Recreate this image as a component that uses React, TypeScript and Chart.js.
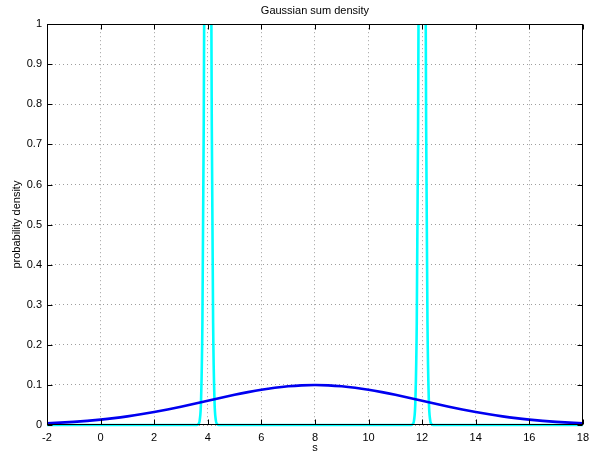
import React, { useEffect, useRef } from "react";
import { Chart, registerables } from "chart.js";

Chart.register(...registerables);

const titleText = "Gaussian sum density";
const xTitle = "s";
const yTitle = "probability density";

const xTickValues = [-2, 0, 2, 4, 6, 8, 10, 12, 14, 16, 18];
const xTickLabels = ["-2", "0", "2", "4", "6", "8", "10", "12", "14", "16", "18"];
const yTickValues = [0, 0.1, 0.2, 0.3, 0.4, 0.5, 0.6, 0.7, 0.8, 0.9, 1];
const yTickLabels = ["0", "0.1", "0.2", "0.3", "0.4", "0.5", "0.6", "0.7", "0.8", "0.9", "1"];

// Blue: wide density (sampled every 0.5 from -2 to 18)
const blueX = [
  -2, -1.5, -1, -0.5, 0, 0.5, 1, 1.5, 2, 2.5, 3, 3.5, 4, 4.5, 5, 5.5, 6, 6.5, 7, 7.5,
  8, 8.5, 9, 9.5, 10, 10.5, 11, 11.5, 12, 12.5, 13, 13.5, 14, 14.5, 15, 15.5, 16, 16.5, 17, 17.5, 18,
];
const blueY = [
  0.0044, 0.0059, 0.0079, 0.0104, 0.0135, 0.0172, 0.0216, 0.0266, 0.0324, 0.0387,
  0.0456, 0.053, 0.0605, 0.068, 0.0753, 0.082, 0.088, 0.0929, 0.0966, 0.0989,
  0.0997,
  0.0989, 0.0966, 0.0929, 0.088, 0.082, 0.0753, 0.068, 0.0605, 0.053, 0.0456,
  0.0387, 0.0324, 0.0266, 0.0216, 0.0172, 0.0135, 0.0104, 0.0079, 0.0059, 0.0044,
];

// Cyan: two narrow peaks at 4 and 12 (tops clipped above 1)
const cyanX = [
  -2,
  3.6, 3.65, 3.7, 3.75, 3.8, 3.85, 3.9, 3.95, 4, 4.05, 4.1, 4.15, 4.2, 4.25, 4.3, 4.35, 4.4,
  11.6, 11.65, 11.7, 11.75, 11.8, 11.85, 11.9, 11.95, 12, 12.05, 12.1, 12.15, 12.2, 12.25, 12.3, 12.35, 12.4,
  18,
];
const cyanY = [
  0,
  0, 0.002, 0.012, 0.063, 0.254, 0.75, 1.62, 2.57, 3.0, 2.57, 1.62, 0.75, 0.254, 0.063, 0.012, 0.002, 0,
  0, 0.002, 0.012, 0.063, 0.254, 0.75, 1.62, 2.57, 3.0, 2.57, 1.62, 0.75, 0.254, 0.063, 0.012, 0.002, 0,
  0,
];

const FONT = "'Liberation Sans', Arial, Helvetica, sans-serif";

const framePlugin = {
  id: "frame",
  afterDatasetsDraw(chart: any) {
    const { ctx, chartArea } = chart;
    const { left, right, top, bottom } = chartArea;
    const xs = chart.scales.x;
    const ys = chart.scales.y;
    const L = Math.round(left) + 0.5;
    const R = Math.round(right) - 0.5;
    const T = Math.round(top) + 0.5;
    const B = Math.round(bottom) - 0.5;
    ctx.save();
    ctx.strokeStyle = "#000";
    ctx.lineWidth = 1;
    ctx.setLineDash([]);
    ctx.strokeRect(L, T, R - L, B - T);
    const tl = 5;
    ctx.beginPath();
    xTickValues.forEach((v) => {
      const px = Math.round(xs.getPixelForValue(v)) + 0.5;
      ctx.moveTo(px, B);
      ctx.lineTo(px, B - tl);
      ctx.moveTo(px, T);
      ctx.lineTo(px, T + tl);
    });
    yTickValues.forEach((v) => {
      const py = Math.round(ys.getPixelForValue(v)) + 0.5;
      ctx.moveTo(L, py);
      ctx.lineTo(L + tl, py);
      ctx.moveTo(R, py);
      ctx.lineTo(R - tl, py);
    });
    ctx.stroke();
    ctx.restore();
  },
};

export default function App() {
  const ref = useRef<HTMLCanvasElement | null>(null);

  useEffect(() => {
    if (!ref.current) return;
    const chart = new Chart(ref.current, {
      type: "scatter",
      data: {
        datasets: [
          {
            data: blueX.map((x, i) => ({ x, y: blueY[i] })),
            showLine: true,
            borderColor: "#0000f0",
            borderWidth: 2.6,
            pointRadius: 0,
            cubicInterpolationMode: "monotone",
            clip: { left: 0, top: 0, right: 0, bottom: 4 },
          } as any,
          {
            data: cyanX.map((x, i) => ({ x, y: cyanY[i] })),
            showLine: true,
            borderColor: "#00ffff",
            borderWidth: 2.6,
            pointRadius: 0,
            cubicInterpolationMode: "monotone",
            clip: { left: 0, top: 0, right: 0, bottom: 4 },
          } as any,
        ],
      },
      options: {
        animation: false,
        responsive: false,
        layout: { padding: { left: 0, right: 7, top: 0, bottom: 0 } },
        plugins: {
          legend: { display: false },
          tooltip: { enabled: false },
          title: {
            display: true,
            text: titleText,
            color: "#000",
            fullSize: false,
            font: { family: FONT, size: 11, weight: "normal" },
            padding: { top: 4, bottom: 7 },
          } as any,
        },
        scales: {
          x: {
            type: "linear",
            min: -2,
            max: 18,
            afterBuildTicks: (s: any) => {
              s.ticks = xTickValues.map((v) => ({ value: v }));
            },
            afterFit: (s: any) => {
              s.height = 28;
            },
            ticks: {
              color: "#000",
              font: { family: FONT, size: 11 },
              padding: 6,
              maxRotation: 0,
              autoSkip: false,
              callback: (_v: any, i: number) => xTickLabels[i],
            },
            grid: { color: "rgba(0,0,0,0.38)", drawTicks: false, lineWidth: 1 },
            border: { display: false, dash: [1, 3] },
            title: {
              display: true,
              text: xTitle,
              color: "#000",
              font: { family: FONT, size: 11 },
              padding: { top: 0, bottom: -2 },
            },
          },
          y: {
            type: "linear",
            min: 0,
            max: 1,
            afterBuildTicks: (s: any) => {
              s.ticks = yTickValues.map((v) => ({ value: v }));
            },
            afterFit: (s: any) => {
              s.width = 47;
            },
            ticks: {
              color: "#000",
              font: { family: FONT, size: 11 },
              padding: 5,
              autoSkip: false,
              callback: (_v: any, i: number) => yTickLabels[i],
            },
            grid: { color: "rgba(0,0,0,0.38)", drawTicks: false, lineWidth: 1 },
            border: { display: false, dash: [1, 3] },
            title: {
              display: true,
              text: yTitle,
              color: "#000",
              font: { family: FONT, size: 11 },
              padding: { top: 10, bottom: 0 },
            },
          },
        },
      },
      plugins: [framePlugin],
    });
    return () => chart.destroy();
  }, []);

  return (
    <div style={{ position: "absolute", left: 0, top: 0, width: 595, height: 453, background: "#fff" }}>
      <canvas ref={ref} width={595} height={453} style={{ display: "block" }} />
    </div>
  );
}
